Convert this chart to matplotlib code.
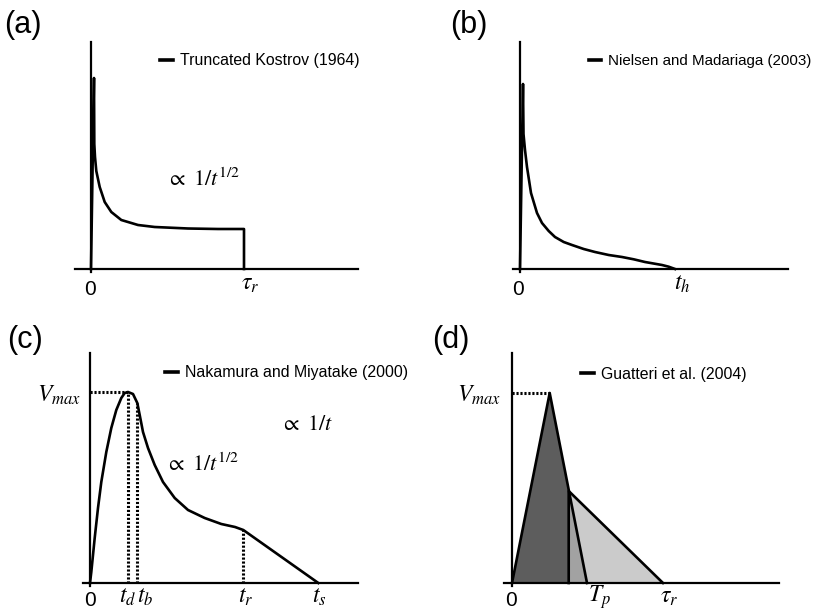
import matplotlib
matplotlib.use("Agg")
import matplotlib.pyplot as plt

plt.rcParams['font.family'] = ['Liberation Sans', 'DejaVu Sans']
plt.rcParams['mathtext.fontset'] = 'stix'

W, H = 822, 616

# (a) truncated Kostrov, arbitrary units
t_a = [0, 3, 3.3, 4, 5.3, 8.7, 13.7, 20.3, 30.3, 47, 63.7, 97, 127, 153, 153]
v_a = [0, 191, 125, 112, 98, 82, 67, 57, 49, 44, 42, 40.5, 40, 40, 0]

# (b) Nielsen and Madariaga
t_b = [0, 3, 3.5, 5, 7, 11, 17, 22, 28.7, 35, 43.7, 52, 63.7, 75, 88.7,
       102, 113.7, 125, 142, 148.7, 155]
v_b = [0, 185, 135, 119, 102, 76, 56, 46, 38, 32, 27, 24, 20, 17, 14,
       12, 9.7, 7, 4, 2.3, 0]

# (c) Nakamura and Miyatake
t_c = [0, 1.3, 4.7, 8, 11.3, 16.3, 21.3, 26.3, 31.3, 34.7, 38, 43, 47.3,
       49.7, 53, 58, 64.7, 73, 84.7, 98, 114.7, 131.3, 145, 153.3, 228.3]
v_c = [0, 11, 45, 75, 101, 131, 155, 173, 185, 190, 191, 189, 180,
       168, 151, 135, 118, 101, 85, 73, 65, 59, 56, 53, 0]
td, tb, tr, ts = 38, 47.3, 153.3, 228.3
vmax_c = 191

# (d) Guatteri et al. triangles
tri1_t = [0, 37.7, 75]
tri1_v = [0, 190, 0]
tri2_t = [56.7, 56.7, 151]
tri2_v = [0, 92, 0]
tp_d, tau_d = 87, 157


def make_axes(ox, oy, x0, x1, ytop):
    ax = fig.add_axes([x0 / W, 1 - (oy + 3) / H, (x1 - x0) / W, (oy + 3 - ytop) / H])
    ax.set_xlim(x0 - ox, x1 - ox)
    ax.set_ylim(-3, oy - ytop)
    for s in ['top', 'right']:
        ax.spines[s].set_visible(False)
    ax.spines['left'].set_position(('data', 0))
    ax.spines['bottom'].set_position(('data', 0))
    for s in ['left', 'bottom']:
        ax.spines[s].set_linewidth(1.6)
    ax.set_xticks([])
    ax.set_yticks([])
    ax.patch.set_alpha(0)
    return ax


def add_legend(ax, px, py, size=11.4):
    leg = ax.legend(loc='center left', bbox_to_anchor=(px / W, 1 - py / H),
                    bbox_transform=fig.transFigure, frameon=False, fontsize=size,
                    handlelength=0.8, handletextpad=0.45, borderpad=0, borderaxespad=0)
    for l in leg.get_lines():
        l.set_linewidth(2.6)


def xlab(ax, t, v, s, size=17):
    ax.text(t, v, s, ha='center', va='center', fontsize=size, clip_on=False)


fig = plt.figure(figsize=(W / 100, H / 100), dpi=100)

# panel (a)
ax = make_axes(91, 269, 75, 358, 42)
ax.plot(t_a, v_a, color='k', lw=1.9, label='Truncated Kostrov (1964)')
add_legend(ax, 160, 61)
ax.text(75, 89, r'$\propto\ \mathit{1/t}^{1/2}$', fontsize=16, ha='left', va='center')
xlab(ax, -1, -21, '0', 15)
xlab(ax, 159, -15, r'$\tau_r$')

# panel (b)
ax = make_axes(520, 269, 513, 788, 42)
ax.plot(t_b, v_b, color='k', lw=1.9, label='Nielsen and Madariaga (2003)')
add_legend(ax, 589, 61, 10.9)
xlab(ax, -2, -21, '0', 15)
xlab(ax, 162, -15, r'$t_h$')

# panel (c)
ax = make_axes(90, 583, 83, 358, 353)
ax.plot(t_c, v_c, color='k', lw=1.9, label='Nakamura and Miyatake (2000)')
dot = dict(color='k', lw=2.2, ls=(0, (0.7, 0.6)))
ax.plot([0, td], [vmax_c, vmax_c], **dot)
ax.plot([td, td], [0, vmax_c], **dot)
ax.plot([tb, tb], [0, v_c[t_c.index(tb)]], **dot)
ax.plot([tr, tr], [0, v_c[t_c.index(tr)]], **dot)
add_legend(ax, 165, 373)
ax.text(-9, 188, r'$V_{max}$', fontsize=17, ha='right', va='center', clip_on=False)
ax.text(75, 118, r'$\propto\ \mathit{1/t}^{1/2}$', fontsize=16, ha='left', va='center')
ax.text(190, 159, r'$\propto\ \mathit{1/t}$', fontsize=16, ha='left', va='center')
xlab(ax, 0, -17, '0', 15)
xlab(ax, 38, -14, r'$t_d$')
xlab(ax, 55, -14, r'$t_b$')
xlab(ax, tr + 2, -14, r'$t_r$')
xlab(ax, ts + 1, -14, r'$t_s$')

# panel (d)
ax = make_axes(512, 583, 504, 779, 353)
split = tri2_t[0]
v_split = tri2_v[1]
ax.fill([tri1_t[0], tri1_t[1], split, split], [0, tri1_v[1], v_split, 0], color='#5d5d5d', lw=0)
ax.fill([split, split, tri1_t[2]], [0, v_split, 0], color='#a2a2a2', lw=0)
ax.fill([split, tri2_t[2], tri1_t[2]], [v_split, 0, 0], color='#cbcbcb', lw=0)
ax.plot(tri1_t, tri1_v, color='k', lw=1.9, label='Guatteri et al. (2004)')
ax.plot(tri2_t, tri2_v, color='k', lw=1.9)
ax.plot([0, tri1_t[1]], [tri1_v[1], tri1_v[1]], **dot)
add_legend(ax, 581, 374)
ax.text(-11, 188, r'$V_{max}$', fontsize=17, ha='right', va='center', clip_on=False)
xlab(ax, -1, -17, '0', 15)
xlab(ax, tp_d, -14, r'$T_p$')
xlab(ax, tau_d, -14, r'$\tau_r$')

for lab, x, y in [('(a)', 4, 25), ('(b)', 450, 25), ('(c)', 7, 340), ('(d)', 432, 340)]:
    fig.text(x / W, 1 - y / H, lab, fontsize=22, ha='left', va='center')

fig.savefig('out.png', dpi=100)
